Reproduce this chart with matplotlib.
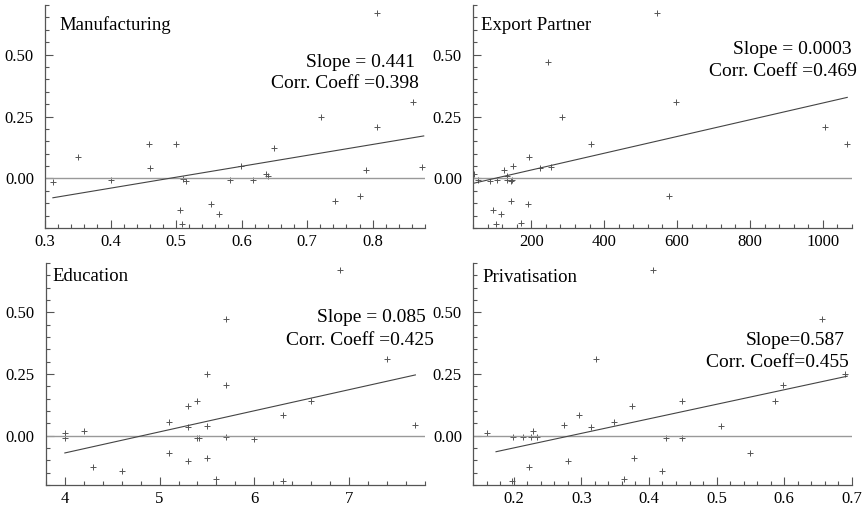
import matplotlib
matplotlib.use("Agg")
import matplotlib.pyplot as plt
from matplotlib.ticker import MultipleLocator, FormatStrFormatter

plt.rcParams['font.family'] = ['Liberation Serif', 'DejaVu Serif']

# Manufacturing
manu_x = [0.312, 0.351, 0.400, 0.459, 0.460, 0.500, 0.506, 0.509, 0.511, 0.515,
          0.554, 0.565, 0.583, 0.599, 0.618, 0.637, 0.640, 0.649, 0.721, 0.742,
          0.781, 0.790, 0.806, 0.806, 0.862, 0.875]
manu_y = [-0.013, 0.085, -0.008, 0.138, 0.042, 0.138, -0.129, -0.185, -0.004, -0.012,
          -0.102, -0.142, -0.008, 0.052, -0.008, 0.017, 0.009, 0.122, 0.249, -0.093,
          -0.071, 0.035, 0.208, 0.669, 0.309, 0.046]

# Export Partner
exp_x = [42, 53, 88, 105, 94, 102, 116, 125, 132, 134, 144, 147, 144, 151, 172,
         191, 193, 223, 247, 253, 283, 364, 544, 577, 597, 1005, 1067]
exp_y = [0.017, -0.008, -0.011, -0.008, -0.129, -0.185, -0.142, 0.035, 0.009, -0.008,
         -0.012, -0.008, -0.093, 0.052, -0.179, -0.102, 0.085, 0.042, 0.472, 0.046,
         0.249, 0.138, 0.669, -0.071, 0.309, 0.208, 0.138]

# Education
edu_x = [4.0, 4.0, 4.2, 4.3, 4.6, 5.1, 5.1, 5.3, 5.3, 5.3, 5.4, 5.4, 5.42, 5.5,
         5.5, 5.5, 5.6, 5.7, 5.7, 5.7, 6.0, 6.3, 6.3, 6.6, 6.9, 7.4, 7.7]
edu_y = [0.011, -0.008, 0.017, -0.126, -0.145, 0.055, -0.070, 0.122, 0.036, -0.102,
         0.140, -0.011, -0.011, 0.249, 0.039, -0.090, -0.177, 0.473, 0.206, -0.007,
         -0.012, 0.082, -0.184, 0.140, 0.672, 0.312, 0.043]

# Privatisation
priv_x = [0.161, 0.197, 0.199, 0.214, 0.223, 0.225, 0.229, 0.234, 0.274, 0.280,
          0.297, 0.314, 0.322, 0.349, 0.363, 0.375, 0.378, 0.406, 0.419, 0.425,
          0.449, 0.449, 0.507, 0.550, 0.586, 0.598, 0.656, 0.690]
priv_y = [0.011, -0.185, -0.007, -0.007, -0.126, -0.007, 0.017, -0.007, 0.042, -0.101,
          0.082, 0.035, 0.310, 0.054, -0.177, 0.122, -0.090, 0.672, -0.145, -0.011,
          0.140, -0.011, 0.039, -0.070, 0.140, 0.206, 0.473, 0.249]

titles = ['Manufacturing', 'Export Partner', 'Education', 'Privatisation']
slope_labels = ['Slope = 0.441', 'Slope = 0.0003', 'Slope = 0.085', 'Slope=0.587']
corr_labels = ['Corr. Coeff =0.398', 'Corr. Coeff =0.469', 'Corr. Coeff =0.425',
               'Corr. Coeff=0.455']
fit_slope = [0.441, 0.000338, 0.0855, 0.59]
fit_icept = [-0.2156, -0.0335, -0.412, -0.1677]
fit_range = [(0.312, 0.878), (40, 1067), (4.0, 7.7), (0.174, 0.693)]

xs = [manu_x, exp_x, edu_x, priv_x]
ys = [manu_y, exp_y, edu_y, priv_y]
xlims = [(0.3, 0.88), (40, 1080), (3.8, 7.8), (0.14, 0.7)]
xmajor = [0.1, 200, 1, 0.1]
xminor = [0.02, 40, 0.2, 0.02]
xfmt = ['%.1f', '%d', '%d', '%.1f']

rects = [[0.052, 0.5547, 0.4388, 0.4355], [0.5462, 0.5547, 0.4376, 0.4355],
         [0.053, 0.0527, 0.4376, 0.4336], [0.5462, 0.0527, 0.4376, 0.4336]]
title_pos = [(0.037, 0.91), (0.021, 0.91), (0.018, 0.938), (0.026, 0.934)]
slope_pos = [(0.974, 0.744), (1.0, 0.80), (1.003, 0.754), (0.981, 0.649)]
corr_pos = [(0.985, 0.65), (1.013, 0.70), (1.025, 0.653), (0.992, 0.554)]

fig = plt.figure(figsize=(8.66, 5.12), dpi=100)

for i in range(4):
    ax = fig.add_axes(rects[i])
    ax.plot(xs[i], ys[i], linestyle='none', marker='+', markersize=4,
            markeredgewidth=0.7, color='#555555')
    ax.axhline(0, color='#999999', lw=1.0)
    x0, x1 = fit_range[i]
    ax.plot([x0, x1], [fit_slope[i] * x0 + fit_icept[i], fit_slope[i] * x1 + fit_icept[i]],
            color='#444444', lw=0.8)

    ax.set_xlim(*xlims[i])
    ax.set_ylim(-0.2, 0.7)
    ax.xaxis.set_major_locator(MultipleLocator(xmajor[i]))
    ax.xaxis.set_minor_locator(MultipleLocator(xminor[i]))
    ax.xaxis.set_major_formatter(FormatStrFormatter(xfmt[i]))
    ax.yaxis.set_major_locator(MultipleLocator(0.25))
    ax.yaxis.set_minor_locator(MultipleLocator(0.05))
    ax.yaxis.set_major_formatter(FormatStrFormatter('%.2f'))

    for s in ['top', 'right']:
        ax.spines[s].set_visible(False)
    for s in ['left', 'bottom']:
        ax.spines[s].set_color('#555555')
        ax.spines[s].set_linewidth(0.9)
    ax.tick_params(which='both', direction='in', color='#555555', width=0.8,
                   labelsize=12)
    ax.tick_params(which='major', length=6)
    ax.tick_params(which='minor', length=3)
    ax.tick_params(axis='y', pad=8)
    ax.tick_params(axis='x', pad=4)

    ax.text(*title_pos[i], titles[i], transform=ax.transAxes, fontsize=13.5,
            ha='left', va='center')
    ax.text(*slope_pos[i], slope_labels[i], transform=ax.transAxes, fontsize=14,
            ha='right', va='center', clip_on=False)
    ax.text(*corr_pos[i], corr_labels[i], transform=ax.transAxes, fontsize=14,
            ha='right', va='center', clip_on=False)

fig.savefig('out.png', dpi=100)
